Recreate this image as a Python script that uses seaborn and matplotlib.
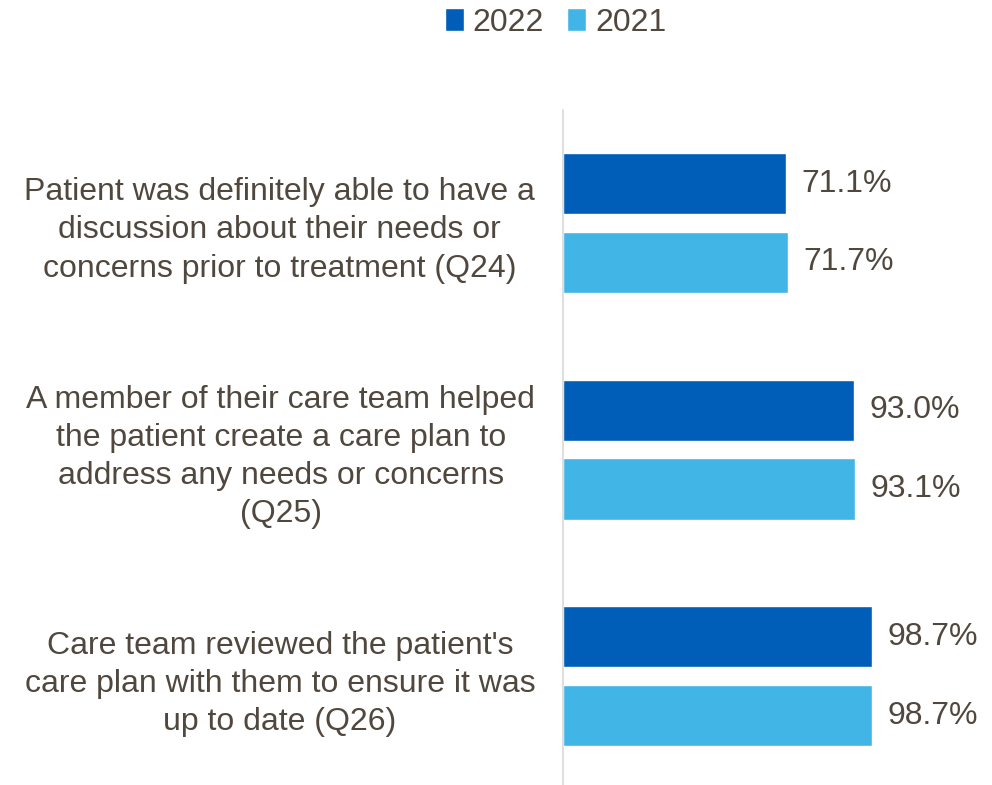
import matplotlib
matplotlib.use("Agg")
import matplotlib.pyplot as plt
import seaborn as sns
import pandas as pd

# Survey questions (y-axis categories)
questions = [
    "Patient was definitely able to have a\ndiscussion about their needs or\nconcerns prior to treatment (Q24)",
    "A member of their care team helped\nthe patient create a care plan to\naddress any needs or concerns\n(Q25)",
    "Care team reviewed the patient's\ncare plan with them to ensure it was\nup to date (Q26)",
]
years = ["2022", "2021"]
values_2022 = [71.1, 93.0, 98.7]
values_2021 = [71.7, 93.1, 98.7]

df = pd.DataFrame({
    "Question": questions * 2,
    "Year": [years[0]] * 3 + [years[1]] * 3,
    "Percent": values_2022 + values_2021,
})

text_color = "#50483E"
palette = {"2022": "#005EB8", "2021": "#41B6E6"}
fs = 23

sns.set_theme(style="white")
plt.rcParams["font.family"] = ["Liberation Sans", "DejaVu Sans"]

fig = plt.figure(figsize=(9.92, 7.85), dpi=100)
ax = fig.add_axes([0.5675, -0.0057, 0.316, 0.866])

sns.barplot(
    data=df, y="Question", x="Percent", hue="Year",
    hue_order=years, order=questions, palette=palette,
    orient="h", width=0.696, gap=0.224, saturation=1,
    errorbar=None, ax=ax, legend=True,
)

ax.set_xlim(0, 100)
ax.set_xlabel("")
ax.set_ylabel("")
ax.set_xticks([])

for spine in ["top", "right", "bottom"]:
    ax.spines[spine].set_visible(False)
ax.spines["left"].set_color("#D9D9D9")
ax.spines["left"].set_linewidth(1.2)

# question labels: centred text block, right edge set back from the axis
ax.tick_params(axis="y", length=0, pad=20, labelsize=fs, labelcolor=text_color)
for lbl in ax.get_yticklabels():
    lbl.set_horizontalalignment("right")
    lbl.set_multialignment("center")
    lbl.set_linespacing(1.35)

for container in ax.containers:
    ax.bar_label(container, fmt="%.1f%%", padding=11, fontsize=fs,
                 color=text_color, clip_on=False)

handles, labels = ax.get_legend_handles_labels()
ax.get_legend().remove()
fig.legend(
    handles, labels, loc="upper center", bbox_to_anchor=(0.56, 1.027),
    ncol=2, frameon=False, fontsize=fs, labelcolor=text_color,
    handlelength=0.6, handleheight=0.7, handletextpad=0.28,
    columnspacing=0.72,
)

fig.savefig("out.png", dpi=100)
